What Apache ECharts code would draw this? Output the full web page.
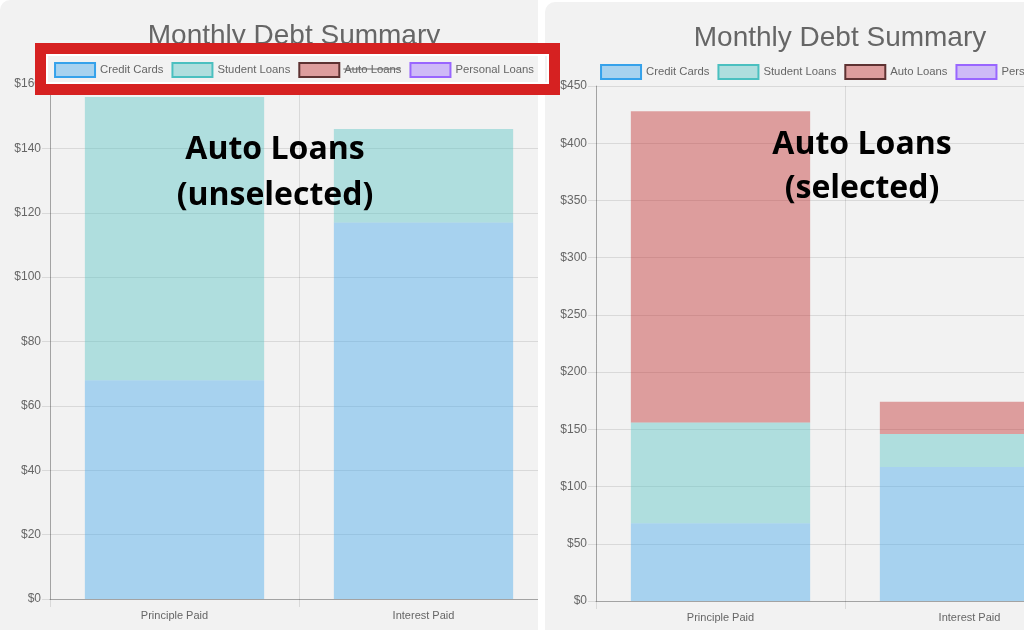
<!DOCTYPE html>
<html>
<head>
<meta charset="utf-8">
<script src="https://cdn.jsdelivr.net/npm/echarts@6/dist/echarts.min.js"></script>
<style>
  html, body { margin:0; padding:0; width:1024px; height:630px; overflow:hidden; background:#ffffff; }
  .panel { position:absolute; background:#f2f2f2; overflow:hidden; }
  #pl { left:0; top:0; width:538px; height:640px; border-radius:10px 0 0 0; }
  #pr { left:545px; top:2px; width:600px; height:640px; border-radius:10px 0 0 0; }
  .chart { position:absolute; top:0; width:588px; height:630px; }
  #cl { left:0; }
  #cr { left:1px; }
  #box { position:absolute; left:35px; top:43px; width:525px; height:52px; box-sizing:border-box;
         border:11px solid #d62121; background:transparent; pointer-events:none; }
  #boxin { position:absolute; left:0; top:0; right:0; bottom:0; box-sizing:border-box;
           border:2px solid #ffffff; background:transparent; }
</style>
</head>
<body>
<div id="pl" class="panel"><div id="cl" class="chart"></div></div>
<div id="pr" class="panel"><div id="cr" class="chart"></div></div>
<div id="box"><div id="boxin"></div></div>
<script>
// ---- data ----
const categories = ['Principle Paid', 'Interest Paid'];
const seriesNames = ['Credit Cards', 'Student Loans', 'Auto Loans', 'Personal Loans'];
const creditCards = [68, 117];
const studentLoans = [88, 29];
const autoLoans = [272, 28];
const personalLoans = [0, 0];
const leftAxis = { max: 160, interval: 20 };
const rightAxis = { max: 450, interval: 50 };
const chartTitle = 'Monthly Debt Summary';
const noteLeft = ['Auto Loans', '(unselected)'];
const noteRight = ['Auto Loans', '(selected)'];

// ---- styles ----
const fills = ['rgba(54,162,235,0.4)', 'rgba(75,192,192,0.4)', 'rgba(190,30,30,0.4)', 'rgba(153,102,255,0.4)'];
const borders = ['rgb(54,162,235)', 'rgb(75,192,192)', '#5e3232', 'rgb(153,102,255)'];
const values = [creditCards, studentLoans, autoLoans, personalLoans];
const FONT = 'Liberation Sans, Arial, sans-serif';
const LEG_FS = 11.3, ICON_W = 40, ICON_H = 14, ITEM_GAP = 8, CHART_W = 588, LEG_TOP = 62;

function textWidth(t, font) {
  const c = document.createElement('canvas').getContext('2d');
  c.font = font;
  return c.measureText(t).width;
}

function buildOption(axisCfg, hidden, notes, noteX, noteY) {
  const legendData = seriesNames.map((n, i) => ({
    name: n,
    icon: 'rect',
    itemStyle: { color: fills[i], borderColor: borders[i], borderWidth: 2 },
    inactiveColor: fills[i],
    inactiveBorderColor: borders[i],
    inactiveBorderWidth: 2
  }));
  const selected = {};
  seriesNames.forEach(n => { selected[n] = hidden.indexOf(n) < 0; });
  const graphics = notes.map((t, k) => ({
    type: 'text', z: 100,
    style: { text: t, x: noteX, y: noteY[k], align: 'center', verticalAlign: 'middle',
             font: 'bold 32px "Open Sans", sans-serif', fill: '#000000' }
  }));
  // strike-through for hidden legend entries (mirrors legend's centred layout)
  const lf = LEG_FS + 'px ' + FONT;
  const widths = seriesNames.map(n => ICON_W + 5 + textWidth(n, lf));
  const total = widths.reduce((a, b) => a + b, 0) + ITEM_GAP * (seriesNames.length - 1);
  let x = (CHART_W - total) / 2;
  seriesNames.forEach((n, i) => {
    if (hidden.indexOf(n) >= 0) {
      const tx = x + ICON_W + 5;
      graphics.push({ type: 'line', z: 100,
        shape: { x1: tx, y1: LEG_TOP + ICON_H / 2, x2: tx + textWidth(n, lf), y2: LEG_TOP + ICON_H / 2 },
        style: { stroke: '#666666', lineWidth: 1 } });
    }
    x += widths[i] + ITEM_GAP;
  });
  return {
    animation: false,
    title: {
      text: chartTitle, left: 'center', top: 22, padding: 0,
      textStyle: { fontFamily: FONT, fontSize: 28, fontWeight: 'normal', color: '#666666' }
    },
    legend: {
      top: LEG_TOP, left: 'center', padding: 0,
      itemWidth: ICON_W, itemHeight: ICON_H, itemGap: ITEM_GAP,
      selected: selected,
      data: legendData,
      formatter: name => '{n|' + name + '}',
      textStyle: {
        fontFamily: FONT, fontSize: LEG_FS, color: '#666666',
        rich: { n: { fontFamily: FONT, fontSize: LEG_FS, color: '#666666' } }
      }
    },
    grid: { left: 50, right: 40, top: 84, bottom: 31 },
    xAxis: {
      type: 'category', data: categories, boundaryGap: true,
      axisLine: { lineStyle: { color: 'rgba(0,0,0,0.25)' } },
      axisTick: { show: true, length: 8, lineStyle: { color: 'rgba(0,0,0,0.1)' } },
      splitLine: { show: true, lineStyle: { color: 'rgba(0,0,0,0.1)' } },
      axisLabel: { color: '#666666', fontSize: 11, margin: 11, fontFamily: FONT }
    },
    yAxis: {
      type: 'value', min: 0, max: axisCfg.max, interval: axisCfg.interval,
      axisLine: { show: true, lineStyle: { color: 'rgba(0,0,0,0.25)' } },
      axisTick: { show: true, length: 8, lineStyle: { color: 'rgba(0,0,0,0.1)' } },
      splitLine: { show: true, lineStyle: { color: 'rgba(0,0,0,0.1)' } },
      axisLabel: { color: '#666666', fontSize: 12, margin: 9, formatter: v => '$' + v, fontFamily: FONT }
    },
    series: seriesNames.map((n, i) => ({
      name: n, type: 'bar', stack: 'debt', data: values[i],
      barCategoryGap: '28%',
      itemStyle: { color: fills[i] },
      emphasis: { disabled: true }
    })),
    graphic: graphics
  };
}

const cl = echarts.init(document.getElementById('cl'));
cl.setOption(buildOption(leftAxis, ['Auto Loans'], noteLeft, 275, [150, 196]));
const cr = echarts.init(document.getElementById('cr'));
cr.setOption(buildOption(rightAxis, [], noteRight, 316, [143, 187]));
</script>
</body>
</html>
